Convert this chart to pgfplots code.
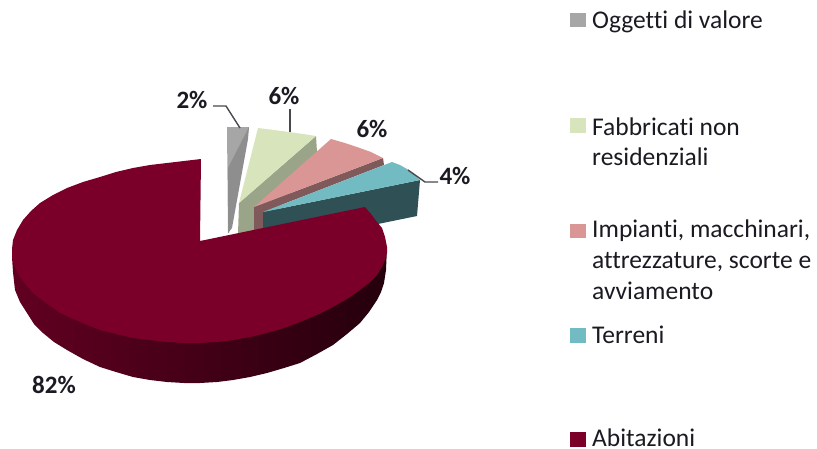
\documentclass[border=0pt]{standalone}
\usepackage{pgfplots}
\pgfplotsset{compat=1.18}
\usepackage{fontspec}
\setmainfont[Ligatures=CommonOff]{Carlito}

\definecolor{abit}{HTML}{7A0029}
\definecolor{grigio}{HTML}{A6A6A6}
\definecolor{grigiod}{HTML}{8E8E8E}
\definecolor{verde}{HTML}{D7E4BC}
\definecolor{verded}{HTML}{9AA488}
\definecolor{rosa}{HTML}{D99694}
\definecolor{rosad}{HTML}{80595A}
\definecolor{teal1}{HTML}{72BBC3}
\definecolor{teald}{HTML}{2F5055}
\definecolor{testo}{HTML}{1A1A22}

\begin{document}
\begin{tikzpicture}
\path[use as bounding box] (0,0) rectangle (817pt,448pt);
\begin{axis}[
  at={(0,0)}, anchor=south west,
  scale only axis, width=817pt, height=448pt,
  xmin=0, xmax=817, ymin=0, ymax=448, y dir=reverse,
  hide axis, clip=false,
  every axis plot/.append style={draw=none},
]
% gray slice
\addplot[fill=grigio] coordinates {(227,127)(249,127)(247,139)(229,233)(228,233)};
\addplot[fill=grigiod] coordinates {(248,139)(249,127)(228,168)(228,233)(232,228)};
% green slice
\addplot[fill=verded] coordinates {(316,136)(317,152)(262,235)(238,234)(239,203)};
\addplot[fill=verde] coordinates {(258,128)(274,130)(289,132)(303,134)(316,136)(239,203)};
% pink slice
\addplot[fill=rosad] coordinates {(383,158)(384,165)(263,212)(263,230)(254,232)(254,207)};
\addplot[fill=rosa] coordinates {(331,139)(345,143)(357,147)(371,152)(383,158)(254,207)};
% teal slice
\addplot[fill=teald] coordinates {(420,180)(417,216)(373,225)(263,232)(263,212)};
\addplot[fill=teal1] coordinates {(392,162)(400,165)(407,169)(414,174)(420,180)(263,212)};
% main slice side wall
\addplot[left color=abit!80!black, middle color=abit!55!black, right color=abit!30!black]
  coordinates {(12,257)(13,272)(15,290)(20,302)(27,313)(34,324)(43,333)(54,342)(67,350)(83,359)(100,367)(116,372)(133,377)(150,380)(167,382)(184,383)(200,383)(217,382)(233,380)(250,377)(267,373)(284,368)(300,363)(317,354)(333,345)(347,334)(360,323)(369,312)(377,300)(381,292)(384,283)(386,270)(387,247)(300,290)(200,300)};
% main slice top
\addplot[fill=abit] coordinates {(201,159)(184,161)(167,163)(150,165)(133,168)(116,172)(100,177)(83,182)(67,188)(53,195)(40,203)(31,211)(23,220)(17,230)(13,240)(12,249)(12,257)(15,267)(20,277)(26,285)(33,293)(46,303)(60,313)(80,322)(100,330)(116,334)(133,338)(150,340)(167,342)(184,343)(200,343)(217,342)(233,340)(250,337)(267,333)(284,328)(300,322)(317,315)(333,307)(347,299)(360,290)(369,283)(377,275)(382,267)(385,260)(387,253)(387,247)(385,237)(382,228)(377,222)(371,214)(365,207)(200,241)};
% leader lines
\addplot[draw=testo!80, line width=1.4pt] coordinates {(213,106)(226,106)(240,128)};
\addplot[draw=testo!80, line width=1.4pt] coordinates {(290,109)(290,132)};
\addplot[draw=testo!80, line width=1.4pt] coordinates {(408,170)(425,182)(438,182)};
% legend keys
\addplot[fill=grigio] coordinates {(570,13)(586,13)(586,27)(570,27)};
\addplot[fill=verde] coordinates {(570,118)(586,118)(586,133)(570,133)};
\addplot[fill=rosa] coordinates {(570,224)(586,224)(586,238)(570,238)};
\addplot[fill=teal1] coordinates {(570,328)(586,328)(586,343)(570,343)};
\addplot[fill=abit] coordinates {(570,432)(586,432)(586,447)(570,447)};
% labels
\begin{scope}[every node/.style={font=\fontsize{25}{25}\selectfont\bfseries, text=testo, inner sep=0pt}]
\node at (axis cs:192,100) {2\%};
\node at (axis cs:284,96) {6\%};
\node at (axis cs:372,129) {6\%};
\node at (axis cs:455,176) {4\%};
\node at (axis cs:54,385) {82\%};
\end{scope}
\begin{scope}[every node/.style={font=\fontsize{25.5}{25.5}\selectfont, text=testo, inner sep=0pt, anchor=base west}]
\node at (axis cs:592,28) {Oggetti di valore};
\node at (axis cs:592,135) {Fabbricati non};
\node at (axis cs:592,165) {residenziali};
\node at (axis cs:592,237) {Impianti, macchinari,};
\node at (axis cs:592,268) {attrezzature, scorte e};
\node at (axis cs:592,299) {avviamento};
\node at (axis cs:592,343) {Terreni};
\node at (axis cs:592,446.5) {Abitazioni};
\end{scope}
\end{axis}
\end{tikzpicture}
\end{document}
